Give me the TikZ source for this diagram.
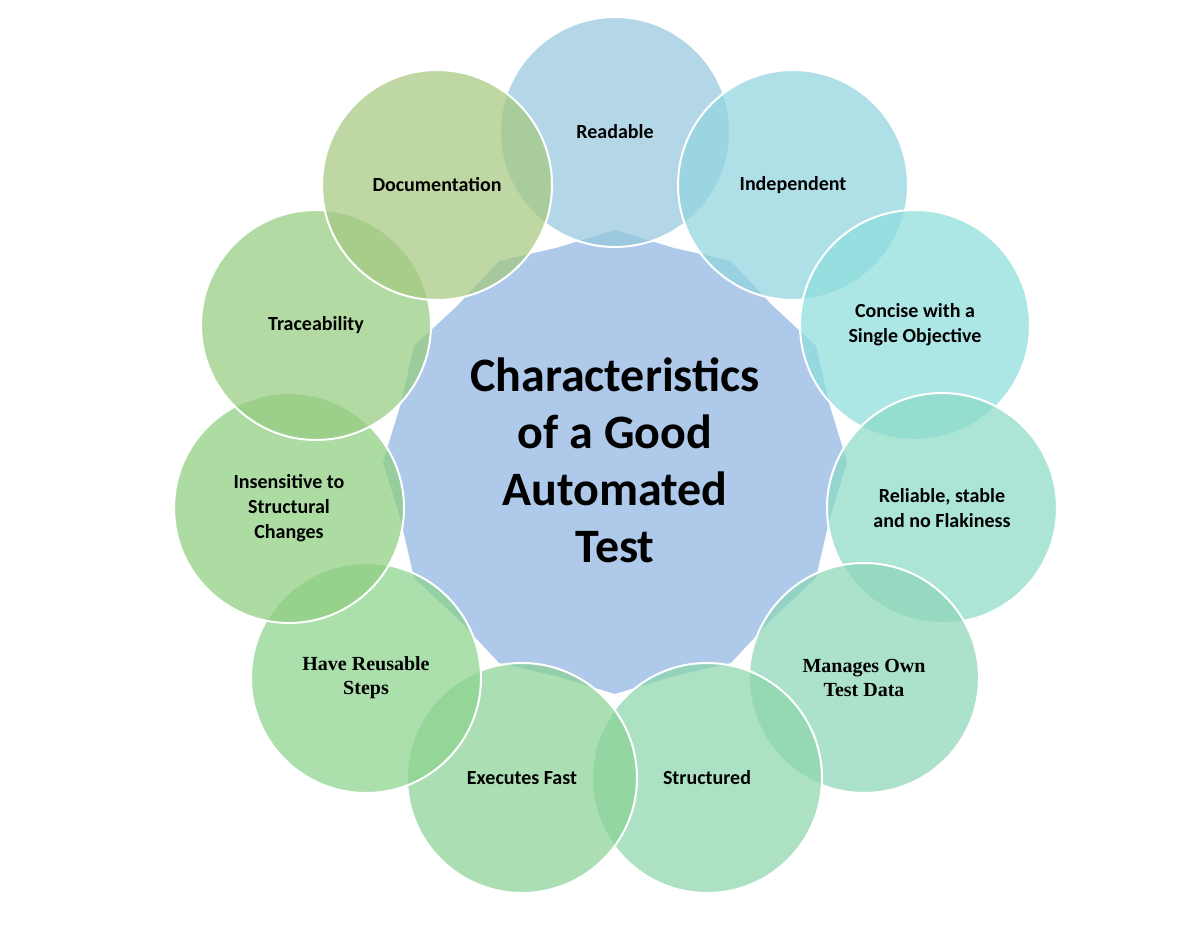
\documentclass[tikz,border=0pt]{standalone}
\usepackage{fontspec}
\setmainfont{Carlito}
\newfontfamily\tnr{Liberation Serif}
\begin{document}
\begin{tikzpicture}[x=1pt,y=1pt,
  bub/.style={circle,minimum size=230pt,draw=white,line width=2pt,fill opacity=0.72,text opacity=1,align=center,font=\bfseries\fontsize{20}{25}\selectfont},
  ser/.style={font=\tnr\bfseries\fontsize{20}{24}\selectfont}]
\useasboundingbox (0,0) rectangle (1200,-931);
\definecolor{c0}{RGB}{150,200,222}
\definecolor{c1}{RGB}{145,212,222}
\definecolor{c2}{RGB}{140,222,220}
\definecolor{c3}{RGB}{140,218,198}
\definecolor{c4}{RGB}{140,214,184}
\definecolor{c5}{RGB}{140,214,172}
\definecolor{c6}{RGB}{138,210,150}
\definecolor{c7}{RGB}{138,210,140}
\definecolor{c8}{RGB}{142,206,128}
\definecolor{c9}{RGB}{150,204,128}
\definecolor{c10}{RGB}{165,200,128}
\definecolor{cc}{RGB}{160,192,230}
\fill[cc,fill opacity=0.85] plot[samples=25,domain=0:360,variable=\t]
  ({615+(mod(round(\t/15),2)==0 ? 232 : 222)*sin(\t)},{-462+(mod(round(\t/15),2)==0 ? 232 : 222)*cos(\t)}) -- cycle;
\node[align=center,font=\bfseries\fontsize{48}{57}\selectfont] (t) at (615,-460) {Characteristics\\of a Good\\Automated\\Test};
\node[bub,fill=c0] (n0) at (615,-132) {Readable};
\node[bub,fill=c1] (n1) at (793,-185) {Independent};
\node[bub,fill=c2] (n2) at (915,-325) {Concise with a\\Single Objective};
\node[bub,fill=c3] (n3) at (942,-508) {Reliable, stable\\and no Flakiness};
\node[bub,fill=c4,ser] (n4) at (864,-678) {Manages Own\\Test Data};
\node[bub,fill=c5] (n5) at (707,-778) {Structured};
\node[bub,fill=c6] (n6) at (522,-778) {Executes Fast};
\node[bub,fill=c7,ser] (n7) at (366,-678) {Have Reusable\\Steps};
\node[bub,fill=c8] (n8) at (289,-508) {Insensitive to\\Structural\\Changes};
\node[bub,fill=c9] (n9) at (316,-325) {Traceability};
\node[bub,fill=c10] (n10) at (437,-185) {Documentation};
\end{tikzpicture}
\end{document}
